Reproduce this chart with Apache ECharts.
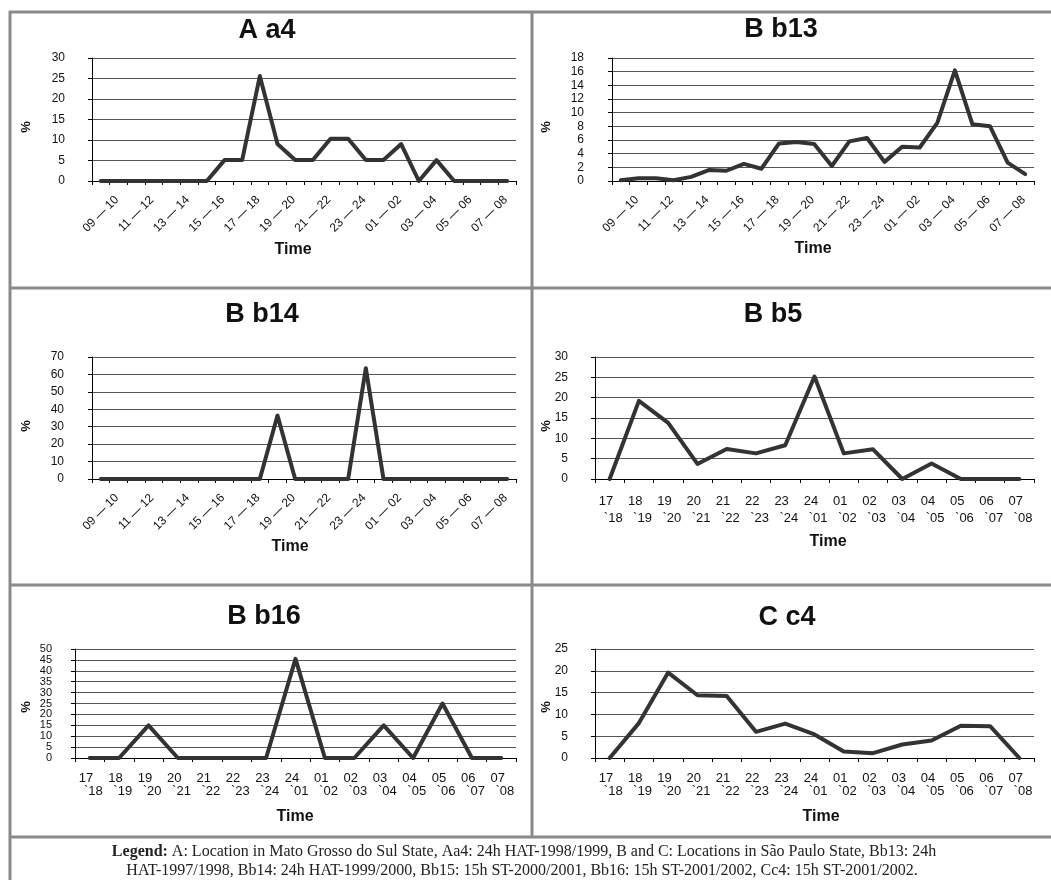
<!DOCTYPE html>
<html>
<head>
<meta charset="utf-8">
<script src="https://cdn.jsdelivr.net/npm/echarts@6/dist/echarts.min.js"></script>
<style>
  html, body { margin: 0; padding: 0; background: #fff; }
  #chart { width: 1051px; height: 880px; }
</style>
</head>
<body>
<div id="chart"></div>
<script>
// Hourly intervals, full day (panels Aa4, Bb13, Bb14)
const hours24 = ['09 — 10', '10 — 11', '11 — 12', '12 — 13', '13 — 14', '14 — 15', '15 — 16', '16 — 17',
  '17 — 18', '18 — 19', '19 — 20', '20 — 21', '21 — 22', '22 — 23', '23 — 24', '24 — 01',
  '01 — 02', '02 — 03', '03 — 04', '04 — 05', '05 — 06', '06 — 07', '07 — 08', '08 — 09'];

// Hourly intervals, 15 h night sampling (panels Bb5, Bb16, Cc4)
const hours15 = ['17 — 18', '18 — 19', '19 — 20', '20 — 21', '21 — 22', '22 — 23', '23 — 24', '24 — 01',
  '01 — 02', '02 — 03', '03 — 04', '04 — 05', '05 — 06', '06 — 07', '07 — 08'];

// Percentage of catches per interval
const pctAa4 = [0, 0, 0, 0, 0, 0, 0, 5.1, 5.1, 25.6, 9.0, 5.1, 5.1, 10.3, 10.3, 5.1, 5.1, 9.0, 0, 5.1, 0, 0, 0, 0];
const pctBb13 = [0.1, 0.4, 0.4, 0.1, 0.6, 1.6, 1.5, 2.5, 1.8, 5.5, 5.7, 5.4, 2.2, 5.8, 6.3, 2.8, 5.0, 4.9, 8.5, 16.2, 8.3, 8.0, 2.7, 1.0];
const pctBb14 = [0, 0, 0, 0, 0, 0, 0, 0, 0, 0, 36.4, 0, 0, 0, 0, 63.6, 0, 0, 0, 0, 0, 0, 0, 0];
const pctBb5 = [0, 19.2, 13.8, 3.7, 7.4, 6.3, 8.3, 25.2, 6.3, 7.3, 0, 3.8, 0, 0, 0];
const pctBb16 = [0, 0, 15, 0, 0, 0, 0, 45.5, 0, 0, 15, 0, 25, 0, 0];
const pctCc4 = [0, 8.0, 19.6, 14.4, 14.2, 6.0, 7.9, 5.4, 1.5, 1.1, 3.1, 4.0, 7.4, 7.3, 0];

// Panel titles and y-axis scales
const titles = ['A a4', 'B b13', 'B b14', 'B b5', 'B b16', 'C c4'];
const yMax = [30, 18, 70, 30, 50, 25];
const yStep = [5, 2, 10, 5, 5, 5];

const legendLine1 = 'A: Location in Mato Grosso do Sul State, Aa4: 24h HAT-1998/1999, B and C: Locations in São Paulo State, Bb13: 24h';
const legendLine2 = 'HAT-1997/1998, Bb14: 24h HAT-1999/2000, Bb15: 15h ST-2000/2001, Bb16: 15h ST-2001/2002, Cc4: 15h ST-2001/2002.';

const SANS = '"Liberation Sans", Arial, sans-serif';

// Layout of each panel: plot box, title/axis-name anchors
const panels = [
  { cats: hours24, data: pctAa4, grid: [92, 58, 424, 123], title: [267, 31], pct: [26, 127], time: [293, 250], yMargin: 27, kind: 'rot' },
  { cats: hours24, data: pctBb13, grid: [612, 58, 422, 123], title: [781, 30], pct: [546, 127], time: [813, 249], yMargin: 28, kind: 'rot' },
  { cats: hours24, data: pctBb14, grid: [92, 357, 424, 122], title: [262, 315], pct: [26, 426], time: [290, 547], yMargin: 28, kind: 'rot' },
  { cats: hours15, data: pctBb5, grid: [595, 357, 439, 122], title: [773, 315], pct: [546, 426], time: [828, 542], yMargin: 27, kind: 'two', lh: 17 },
  { cats: hours15, data: pctBb16, grid: [75, 649, 441, 109], title: [264, 617], pct: [26, 707], time: [295, 817], yMargin: 23, kind: 'two', lh: 13, ySize: 11 },
  { cats: hours15, data: pctCc4, grid: [595, 649, 439, 109], title: [787, 618], pct: [546, 707], time: [821, 817], yMargin: 27, kind: 'two', lh: 13 }
];

const grids = [], xAxes = [], yAxes = [], series = [], graphic = [];

panels.forEach((p, i) => {
  grids.push({ left: p.grid[0], top: p.grid[1], width: p.grid[2], height: p.grid[3], containLabel: false });

  const xLabel = p.kind === 'rot'
    ? { interval: 1, rotate: 45, align: 'center', verticalAlign: 'middle', margin: 33,
        fontFamily: SANS, fontSize: 12, color: '#111' }
    : { interval: 0, margin: 14, verticalAlign: 'top', lineHeight: p.lh,
        fontFamily: SANS, fontSize: 13, color: '#111',
        formatter: v => { const s = v.split(' — '); return s[0] + '  \n  `' + s[1]; } };

  xAxes.push({
    type: 'category', gridIndex: i, data: p.cats, boundaryGap: true,
    axisLine: { lineStyle: { color: '#000', width: 1 } },
    axisTick: { show: true, interval: 0, length: 4, lineStyle: { color: '#000' } },
    axisLabel: xLabel,
    splitLine: { show: false }
  });

  yAxes.push({
    type: 'value', gridIndex: i, min: 0, max: yMax[i], interval: yStep[i],
    axisLine: { show: true, lineStyle: { color: '#000', width: 1 } },
    axisTick: { show: true, length: 4, lineStyle: { color: '#000' } },
    axisLabel: { margin: p.yMargin, fontFamily: SANS, fontSize: p.ySize || 12, color: '#111' },
    splitLine: { show: true, lineStyle: { color: '#555', width: 1 } }
  });

  series.push({
    type: 'line', xAxisIndex: i, yAxisIndex: i, data: p.data,
    symbol: 'none', silent: true, animation: false,
    lineStyle: { color: '#333', width: 4, join: 'round', cap: 'round' }
  });

  graphic.push(
    { type: 'text', x: p.title[0], y: p.title[1], silent: true,
      style: { text: titles[i], font: 'bold 27px ' + SANS, fill: '#111', align: 'center', verticalAlign: 'middle' } },
    { type: 'text', x: p.pct[0], y: p.pct[1], rotation: Math.PI / 2, silent: true,
      style: { text: '%', font: 'bold 13px ' + SANS, fill: '#111', align: 'center', verticalAlign: 'middle' } },
    { type: 'text', x: p.time[0], y: p.time[1], silent: true,
      style: { text: 'Time', font: 'bold 16px ' + SANS, fill: '#111', align: 'center', verticalAlign: 'middle' } }
  );
});

// Frame around the panels
const frame = { stroke: '#8a8a8a', lineWidth: 3 };
[
  [10, 11, 10, 880], [9, 12, 1051, 12], [9, 288, 1051, 288],
  [9, 585, 1051, 585], [9, 837, 1051, 837], [532, 12, 532, 837]
].forEach(s => graphic.push({ type: 'line', silent: true, shape: { x1: s[0], y1: s[1], x2: s[2], y2: s[3] }, style: frame }));

// Caption under the panels
const SERIF = '"Liberation Serif", "DejaVu Serif", serif';
graphic.push(
  { type: 'text', x: 524, y: 852, silent: true,
    style: { text: '{b|Legend:} ' + legendLine1, font: '16px ' + SERIF, fill: '#222', align: 'center', verticalAlign: 'middle',
      rich: { b: { fontWeight: 'bold', fontFamily: SERIF, fontSize: 16, fill: '#222' } } } },
  { type: 'text', x: 522, y: 871, silent: true,
    style: { text: legendLine2, font: '16px ' + SERIF, fill: '#222', align: 'center', verticalAlign: 'middle' } }
);

const chart = echarts.init(document.getElementById('chart'), null, { renderer: 'canvas' });
chart.setOption({
  animation: false,
  backgroundColor: '#fff',
  grid: grids, xAxis: xAxes, yAxis: yAxes, series: series, graphic: graphic
});
</script>
</body>
</html>
